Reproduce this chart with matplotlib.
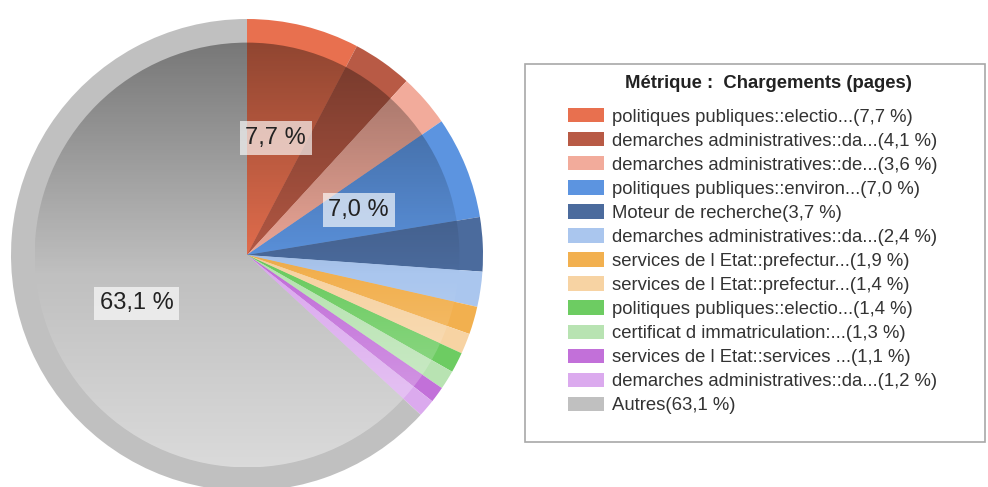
import numpy as np
import matplotlib
matplotlib.use("Agg")
import matplotlib.pyplot as plt
from matplotlib.patches import Rectangle, Circle

plt.rcParams['font.family'] = ['Liberation Sans', 'DejaVu Sans']

labels = [
    "politiques publiques::electio...(7,7 %)",
    "demarches administratives::da...(4,1 %)",
    "demarches administratives::de...(3,6 %)",
    "politiques publiques::environ...(7,0 %)",
    "Moteur de recherche(3,7 %)",
    "demarches administratives::da...(2,4 %)",
    "services de l Etat::prefectur...(1,9 %)",
    "services de l Etat::prefectur...(1,4 %)",
    "politiques publiques::electio...(1,4 %)",
    "certificat d immatriculation:...(1,3 %)",
    "services de l Etat::services ...(1,1 %)",
    "demarches administratives::da...(1,2 %)",
    "Autres(63,1 %)",
]
values = [7.7, 4.1, 3.6, 7.0, 3.7, 2.4, 1.9, 1.4, 1.4, 1.3, 1.1, 1.2, 63.1]
colors = ["#e8704f", "#b85a45", "#f2ab9b", "#5c94e0", "#4b6b9d", "#aac6ee",
          "#f2b04f", "#f7d3a3", "#6dcc62", "#b8e3b2", "#c270d9", "#dbaaee",
          "#c0c0c0"]
title = "Métrique :  Chargements (pages)"

W, H = 988, 487
fig = plt.figure(figsize=(W / 100, H / 100), dpi=100)

# pie: centre (247,255) px, radius 236 px
cx, cy, R = 247, 255, 236
ax = fig.add_axes([(cx - R) / W, (H - cy - R) / H, 2 * R / W, 2 * R / H])
wedges, _ = ax.pie(values, colors=colors, startangle=90, counterclock=False,
                   radius=1, wedgeprops=dict(linewidth=0))
ax.pie(values, colors=colors, startangle=90, counterclock=False,
       radius=0.9, wedgeprops=dict(linewidth=0))

# vertical shading on the inner disc: darker on top, lighter at bottom
n = 400
t = np.linspace(0, 1, n)
shade = np.zeros((n, 1, 4))
top = t < 0.55
shade[top, 0, 3] = (0.55 - t[top]) / 0.55 * 0.38
shade[~top, 0, :3] = 1.0
shade[~top, 0, 3] = (t[~top] - 0.55) / 0.45 * 0.42
im = ax.imshow(shade, extent=(-0.9, 0.9, -0.9, 0.9), aspect='auto', zorder=3)
im.set_clip_path(Circle((0, 0), 0.9, transform=ax.transData))

for w, v in zip(wedges, values):
    if v > 5:
        ang = np.deg2rad((w.theta1 + w.theta2) / 2)
        ax.text(0.51 * np.cos(ang), 0.51 * np.sin(ang),
                f"{v:.1f} %".replace('.', ','), ha='center', va='center',
                fontsize=17, color='#222222', zorder=5,
                bbox=dict(facecolor='white', alpha=0.65, edgecolor='none', pad=4))

ax.set_xlim(-1, 1)
ax.set_ylim(-1, 1)
ax.set_aspect('auto')
ax.axis('off')

# legend frame
fig.patches.append(Rectangle((525 / W, (H - 442) / H), 460 / W, 378 / H,
                             transform=fig.transFigure, facecolor='white',
                             edgecolor='#a8a8a8', linewidth=1.2))
fig.text(768 / W, (H - 84) / H, title, ha='center', va='center',
         fontsize=13.3, fontweight='bold', color='#222222')

leg = fig.legend(wedges, labels, loc='upper left',
                 bbox_to_anchor=(568 / W, (H - 108) / H), frameon=False,
                 fontsize=13.3, borderpad=0, borderaxespad=0, handlelength=1.95,
                 handleheight=0.82, handletextpad=0.45, labelspacing=0.35)
for txt in leg.get_texts():
    txt.set_color('#333333')

fig.savefig("out.png", dpi=100)
